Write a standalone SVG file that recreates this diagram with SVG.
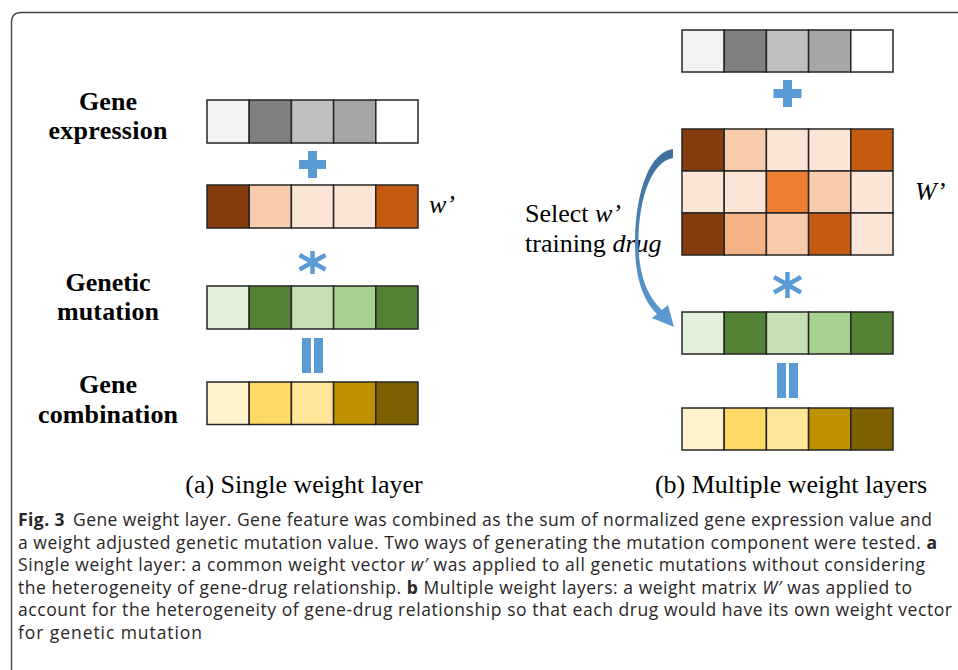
<svg xmlns="http://www.w3.org/2000/svg" width="958" height="670" viewBox="0 0 958 670">
<style>
.c{stroke:#262626;stroke-width:1.5}
.lab{font-family:"Liberation Serif","Times New Roman",serif;font-weight:bold;font-size:26px;fill:#000;text-anchor:middle}
.ser{font-family:"Liberation Serif","Times New Roman",serif;font-size:26px;fill:#000}
.op{fill:#5B9BD5}
.ast{stroke:#5B9BD5;stroke-width:4.5;fill:none}
.cap{font-family:"Open Sans","Noto Sans","Liberation Sans",sans-serif;font-size:17.5px;fill:#2A2627}
</style>
<defs>
<linearGradient id="ag" x1="0" y1="0" x2="0" y2="1">
<stop offset="0" stop-color="#3E6E9C"/>
<stop offset="1" stop-color="#5B9BD5"/>
</linearGradient>
</defs>
<rect width="958" height="670" fill="#fff"/>
<path d="M11.5,670 V22 Q11.5,12.5 21,12.5 H958" fill="none" stroke="#444" stroke-width="1.4"/>

<!-- Left panel labels -->
<g id="label-expression"><text class="lab" x="108" y="110" textLength="58">Gene</text><text class="lab" x="108" y="139" textLength="119">expression</text></g>
<g id="label-mutation"><text class="lab" x="108" y="291" textLength="85">Genetic</text><text class="lab" x="108" y="320" textLength="102">mutation</text></g>
<g id="label-combination"><text class="lab" x="108" y="393" textLength="58">Gene</text><text class="lab" x="108" y="423" textLength="140">combination</text></g>

<!-- Left panel bars -->
<g id="a-expression">
<rect class="c" x="207" y="100" width="42.2" height="43" fill="#F2F2F2"/>
<rect class="c" x="249.2" y="100" width="42.2" height="43" fill="#808080"/>
<rect class="c" x="291.4" y="100" width="42.2" height="43" fill="#BFBFBF"/>
<rect class="c" x="333.6" y="100" width="42.2" height="43" fill="#A6A6A6"/>
<rect class="c" x="375.8" y="100" width="42.2" height="43" fill="#FFFFFF"/>
</g>
<g id="a-plus"><path class="op" d="M308,151 h9 v9 h9 v9 h-9 v9 h-9 v-9 h-9 v-9 h9 z"/></g>
<g id="a-weight">
<rect class="c" x="207" y="185" width="42.2" height="43" fill="#843C0C"/>
<rect class="c" x="249.2" y="185" width="42.2" height="43" fill="#F8CBAD"/>
<rect class="c" x="291.4" y="185" width="42.2" height="43" fill="#FBE5D6"/>
<rect class="c" x="333.6" y="185" width="42.2" height="43" fill="#FBE5D6"/>
<rect class="c" x="375.8" y="185" width="42.2" height="43" fill="#C55A11"/>
<text class="ser" x="429" y="213" font-style="italic">w’</text>
</g>
<g id="a-times"><path class="ast" d="M312.5,251 V274 M299.5,255 L325.5,269.5 M299.5,269.5 L325.5,255"/></g>
<g id="a-mutation">
<rect class="c" x="207" y="286" width="42.2" height="43" fill="#E2F0D9"/>
<rect class="c" x="249.2" y="286" width="42.2" height="43" fill="#548235"/>
<rect class="c" x="291.4" y="286" width="42.2" height="43" fill="#C5E0B4"/>
<rect class="c" x="333.6" y="286" width="42.2" height="43" fill="#A9D18E"/>
<rect class="c" x="375.8" y="286" width="42.2" height="43" fill="#548235"/>
</g>
<g id="a-equals"><rect class="op" x="302" y="338" width="9" height="35"/><rect class="op" x="314" y="338" width="9" height="35"/></g>
<g id="a-combination">
<rect class="c" x="207" y="382" width="42.2" height="42.5" fill="#FFF2CC"/>
<rect class="c" x="249.2" y="382" width="42.2" height="42.5" fill="#FFD966"/>
<rect class="c" x="291.4" y="382" width="42.2" height="42.5" fill="#FFE699"/>
<rect class="c" x="333.6" y="382" width="42.2" height="42.5" fill="#BF9000"/>
<rect class="c" x="375.8" y="382" width="42.2" height="42.5" fill="#7F6000"/>
</g>
<text class="ser" x="304" y="493" text-anchor="middle">(a) Single weight layer</text>

<!-- Right panel -->
<g id="b-expression">
<rect class="c" x="682" y="30" width="42.2" height="42" fill="#F2F2F2"/>
<rect class="c" x="724.2" y="30" width="42.2" height="42" fill="#808080"/>
<rect class="c" x="766.4" y="30" width="42.2" height="42" fill="#BFBFBF"/>
<rect class="c" x="808.6" y="30" width="42.2" height="42" fill="#A6A6A6"/>
<rect class="c" x="850.8" y="30" width="42.2" height="42" fill="#FFFFFF"/>
</g>
<g id="b-plus"><path class="op" d="M783,80 h9 v9 h9.5 v9 h-9.5 v9 h-9 v-9 h-9.5 v-9 h9.5 z"/></g>
<g id="b-matrix">
<rect class="c" x="682" y="129" width="42.2" height="42" fill="#843C0C"/>
<rect class="c" x="724.2" y="129" width="42.2" height="42" fill="#F8CBAD"/>
<rect class="c" x="766.4" y="129" width="42.2" height="42" fill="#FBE5D6"/>
<rect class="c" x="808.6" y="129" width="42.2" height="42" fill="#FBE5D6"/>
<rect class="c" x="850.8" y="129" width="42.2" height="42" fill="#C55A11"/>
<rect class="c" x="682" y="171" width="42.2" height="42" fill="#FBE5D6"/>
<rect class="c" x="724.2" y="171" width="42.2" height="42" fill="#FBE5D6"/>
<rect class="c" x="766.4" y="171" width="42.2" height="42" fill="#ED7D31"/>
<rect class="c" x="808.6" y="171" width="42.2" height="42" fill="#F8CBAD"/>
<rect class="c" x="850.8" y="171" width="42.2" height="42" fill="#FBE5D6"/>
<rect class="c" x="682" y="213" width="42.2" height="42" fill="#843C0C"/>
<rect class="c" x="724.2" y="213" width="42.2" height="42" fill="#F4B183"/>
<rect class="c" x="766.4" y="213" width="42.2" height="42" fill="#F8CBAD"/>
<rect class="c" x="808.6" y="213" width="42.2" height="42" fill="#C55A11"/>
<rect class="c" x="850.8" y="213" width="42.2" height="42" fill="#FBE5D6"/>
<text class="ser" x="915" y="200" font-style="italic">W’</text>
</g>
<g id="b-select">
<text class="ser" x="525" y="222">Select <tspan font-style="italic">w’</tspan></text>
<text class="ser" x="525" y="252">training <tspan font-style="italic">drug</tspan></text>
</g>
<g id="connectors">
<path fill="url(#ag)" d="M673,149 L673,158 C653,161 639,195 638.5,240 C638,275 648,297 662,310 L668,305 L674,327 L652,318 L657,314 C643,300 634.5,278 635,240 C636,190 650,152 673,149 Z"/>
</g>
<g id="b-times"><path class="ast" d="M787.5,272 V298 M774,277 L801,292.5 M774,292.5 L801,277"/></g>
<g id="b-mutation">
<rect class="c" x="682" y="312" width="42.2" height="42" fill="#E2F0D9"/>
<rect class="c" x="724.2" y="312" width="42.2" height="42" fill="#548235"/>
<rect class="c" x="766.4" y="312" width="42.2" height="42" fill="#C5E0B4"/>
<rect class="c" x="808.6" y="312" width="42.2" height="42" fill="#A9D18E"/>
<rect class="c" x="850.8" y="312" width="42.2" height="42" fill="#548235"/>
</g>
<g id="b-equals"><rect class="op" x="777" y="363" width="9" height="35"/><rect class="op" x="789" y="363" width="9" height="35"/></g>
<g id="b-combination">
<rect class="c" x="682" y="408" width="42.2" height="42" fill="#FFF2CC"/>
<rect class="c" x="724.2" y="408" width="42.2" height="42" fill="#FFD966"/>
<rect class="c" x="766.4" y="408" width="42.2" height="42" fill="#FFE699"/>
<rect class="c" x="808.6" y="408" width="42.2" height="42" fill="#BF9000"/>
<rect class="c" x="850.8" y="408" width="42.2" height="42" fill="#7F6000"/>
</g>
<text class="ser" x="791" y="493" text-anchor="middle">(b) Multiple weight layers</text>

<!-- Caption -->
<text class="cap" x="18" y="526" textLength="914" lengthAdjust="spacing"><tspan font-weight="bold">Fig. 3</tspan><tspan dx="8">Gene weight layer. Gene feature was combined as the sum of normalized gene expression value and</tspan></text>
<text class="cap" x="18" y="548.5" textLength="919" lengthAdjust="spacing">a weight adjusted genetic mutation value. Two ways of generating the mutation component were tested. <tspan font-weight="bold">a</tspan></text>
<text class="cap" x="18" y="571" textLength="907" lengthAdjust="spacing">Single weight layer: a common weight vector <tspan font-style="italic">w′</tspan> was applied to all genetic mutations without considering</text>
<text class="cap" x="18" y="593.5" textLength="894" lengthAdjust="spacing">the heterogeneity of gene-drug relationship. <tspan font-weight="bold">b</tspan> Multiple weight layers: a weight matrix <tspan font-style="italic">W′</tspan> was applied to</text>
<text class="cap" x="18" y="616" textLength="934" lengthAdjust="spacing">account for the heterogeneity of gene-drug relationship so that each drug would have its own weight vector</text>
<text class="cap" x="18" y="638.5" textLength="184" lengthAdjust="spacing">for genetic mutation</text>
</svg>
